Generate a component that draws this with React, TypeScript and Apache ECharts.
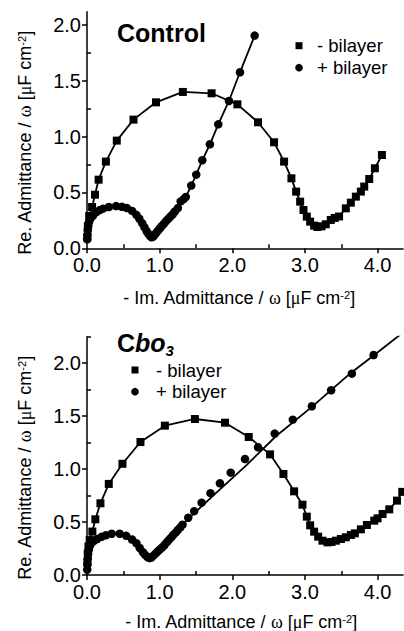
import React, { useEffect, useRef } from "react";
import * as echarts from "echarts";

const xTicks = [0, 1, 2, 3, 4];
const xMinorTicks = [0.5, 1.5, 2.5, 3.5];
const yTicks = [0, 0.5, 1, 1.5, 2];
const yMinorTicksTop = [0.25, 0.75, 1.25, 1.75];
const yMinorTicksBottom = [0.25, 0.75, 1.25, 1.75, 2.25];

const controlMinus = [
  [0.005, 0.1], [0.012, 0.2], [0.03, 0.29], [0.07, 0.37], [0.11, 0.48], [0.16, 0.615],
  [0.26, 0.777], [0.41, 0.965], [0.64, 1.153], [0.95, 1.308], [1.32, 1.401], [1.715, 1.389],
  [2.07, 1.29], [2.354, 1.129], [2.575, 0.95], [2.713, 0.777], [2.814, 0.627], [2.879, 0.508],
  [2.934, 0.418], [2.98, 0.343], [3.026, 0.284], [3.072, 0.239], [3.127, 0.203], [3.172, 0.191],
  [3.228, 0.197], [3.287, 0.215], [3.356, 0.254], [3.41, 0.272], [3.47, 0.285], [3.563, 0.358],
  [3.632, 0.409], [3.701, 0.463], [3.77, 0.508], [3.816, 0.553], [3.885, 0.621], [3.963, 0.717],
  [4.06, 0.836],
];

const controlPlus = [
  [0.003, 0.08], [0.006, 0.12], [0.01, 0.16], [0.018, 0.2], [0.03, 0.24], [0.05, 0.27],
  [0.08, 0.29], [0.12, 0.32], [0.17, 0.34], [0.22, 0.355], [0.3, 0.37], [0.4, 0.378],
  [0.48, 0.372], [0.55, 0.36], [0.62, 0.335], [0.68, 0.3], [0.72, 0.265], [0.76, 0.225],
  [0.79, 0.19], [0.82, 0.155], [0.845, 0.13], [0.87, 0.11], [0.89, 0.098], [0.91, 0.105],
  [0.93, 0.12], [0.955, 0.14], [0.98, 0.16], [1.005, 0.18], [1.03, 0.2], [1.06, 0.22],
  [1.09, 0.245], [1.12, 0.265], [1.15, 0.285], [1.18, 0.305], [1.21, 0.33], [1.25, 0.36],
  [1.29, 0.42], [1.33, 0.44], [1.36, 0.46], [1.435, 0.562], [1.504, 0.66], [1.587, 0.789],
  [1.692, 0.932], [1.807, 1.111], [1.954, 1.32], [2.106, 1.577], [2.308, 1.906],
];

const cbo3Minus = [
  [0.005, 0.12], [0.01, 0.2], [0.02, 0.27], [0.037, 0.33], [0.074, 0.41], [0.115, 0.526],
  [0.185, 0.677], [0.3, 0.86], [0.488, 1.05], [0.736, 1.256], [1.072, 1.41], [1.486, 1.473],
  [1.9, 1.438], [2.226, 1.303], [2.52, 1.139], [2.704, 0.954], [2.851, 0.79], [2.966, 0.664],
  [3.026, 0.551], [3.072, 0.469], [3.127, 0.409], [3.182, 0.362], [3.242, 0.324], [3.311, 0.308],
  [3.366, 0.312], [3.426, 0.324], [3.495, 0.34], [3.563, 0.356], [3.632, 0.378], [3.687, 0.393],
  [3.77, 0.431], [3.853, 0.472], [3.954, 0.513], [4.0, 0.535], [4.069, 0.576], [4.161, 0.62],
  [4.267, 0.702], [4.34, 0.785],
];

const cbo3Plus = [
  [0.003, 0.05], [0.006, 0.1], [0.01, 0.15], [0.016, 0.2], [0.025, 0.24], [0.04, 0.275],
  [0.06, 0.3], [0.09, 0.32], [0.14, 0.34], [0.2, 0.36], [0.26, 0.375], [0.34, 0.39],
  [0.45, 0.39], [0.54, 0.37], [0.62, 0.335], [0.68, 0.3], [0.725, 0.255], [0.77, 0.215],
  [0.8, 0.19], [0.83, 0.17], [0.86, 0.16], [0.885, 0.165], [0.91, 0.18], [0.94, 0.2],
  [0.97, 0.22], [1.0, 0.24], [1.035, 0.26], [1.067, 0.283], [1.1, 0.31], [1.127, 0.331],
  [1.16, 0.355], [1.187, 0.378], [1.22, 0.4], [1.251, 0.425], [1.285, 0.45], [1.315, 0.475],
  [1.394, 0.541], [1.476, 0.603], [1.578, 0.683], [1.7, 0.773], [1.83, 0.866], [1.978, 0.966],
  [2.175, 1.095], [2.355, 1.206], [2.584, 1.335], [2.833, 1.467], [3.095, 1.593], [3.361, 1.744],
  [3.646, 1.901], [3.945, 2.077],
];

const cbo3PlusFit = [
  [0.003, 0.05], [0.02, 0.22], [0.06, 0.3], [0.14, 0.34], [0.26, 0.375], [0.4, 0.39],
  [0.54, 0.37], [0.64, 0.325], [0.72, 0.26], [0.79, 0.195], [0.85, 0.16], [0.9, 0.17],
  [0.97, 0.215], [1.07, 0.285], [1.2, 0.385], [1.37, 0.515], [1.8, 0.79], [2.2, 1.04],
  [2.6, 1.31], [3.1, 1.59], [3.6, 1.89], [3.95, 2.075], [4.35, 2.29],
];

const FONT = "Liberation Sans, Arial, Helvetica, sans-serif";
const SERIF = "Liberation Serif, Times New Roman, serif";
const BLACK = "#000";

function mainX(gridIndex: number) {
  return {
    type: "value", gridIndex, min: 0, max: 4.35, interval: 1, position: "bottom",
    axisLine: { show: true, onZero: false, lineStyle: { color: BLACK, width: 1.5 } },
    axisTick: { show: true, inside: false, length: 5, customValues: xTicks, lineStyle: { color: BLACK, width: 1.5 } },
    axisLabel: { show: true, margin: 7, customValues: xTicks, formatter: (v: number) => v.toFixed(1), color: BLACK, fontSize: 20, fontFamily: FONT },
    splitLine: { show: false },
  };
}
function minorX(gridIndex: number) {
  return {
    type: "value", gridIndex, min: 0, max: 4.35, interval: 0.5, position: "bottom",
    axisLine: { show: false, onZero: false },
    axisTick: { show: true, inside: true, length: 4, customValues: xMinorTicks, lineStyle: { color: BLACK, width: 1.5 } },
    axisLabel: { show: false },
    splitLine: { show: false },
  };
}
function mainY(gridIndex: number, max: number) {
  return {
    type: "value", gridIndex, min: 0, max, interval: 0.5, position: "left",
    axisLine: { show: true, onZero: false, lineStyle: { color: BLACK, width: 1.5 } },
    axisTick: { show: true, inside: false, length: 5, customValues: yTicks, lineStyle: { color: BLACK, width: 1.5 } },
    axisLabel: { show: true, margin: 6, customValues: yTicks, formatter: (v: number) => v.toFixed(1), color: BLACK, fontSize: 20, fontFamily: FONT },
    splitLine: { show: false },
  };
}
function minorY(gridIndex: number, max: number, ticks: number[]) {
  return {
    type: "value", gridIndex, min: 0, max, interval: 0.25, position: "left",
    axisLine: { show: false, onZero: false },
    axisTick: { show: true, inside: true, length: 4, customValues: ticks, lineStyle: { color: BLACK, width: 1.5 } },
    axisLabel: { show: false },
    splitLine: { show: false },
  };
}

const titleRich = {
  t: { fontSize: 18, fontFamily: FONT, color: BLACK },
  g: { fontSize: 18, fontFamily: SERIF, color: BLACK },
  s: { fontSize: 11, fontFamily: FONT, color: BLACK, verticalAlign: "top" },
};
const yTitleText = "{t|Re. Admittance / }{g|ω}{t| [}{g|μ}{t|F cm}{s|-2}{t|]}";
const xTitleText = "{t|- Im. Admittance / }{g|ω}{t| [}{g|μ}{t|F cm}{s|-2}{t|]}";

function titleText(x: number, y: number, text: string, rotation = 0) {
  return {
    type: "text", x, y, rotation,
    style: { text, rich: titleRich, align: "center", verticalAlign: "middle", fill: BLACK },
  };
}

function legend(x: number, y1: number, y2: number, tx: number) {
  return [
    { type: "rect", shape: { x: x - 3.5, y: y1 - 3.5, width: 7, height: 7 }, style: { fill: BLACK } },
    { type: "circle", shape: { cx: x, cy: y2, r: 3.8 }, style: { fill: BLACK } },
    { type: "text", x: tx, y: y1, style: { text: "- bilayer", fontSize: 18.5, fontFamily: FONT, fill: BLACK, align: "left", verticalAlign: "middle" } },
    { type: "text", x: tx, y: y2, style: { text: "+ bilayer", fontSize: 18.5, fontFamily: FONT, fill: BLACK, align: "left", verticalAlign: "middle" } },
  ];
}

export default function App() {
  const ref = useRef<HTMLDivElement>(null);
  useEffect(() => {
    if (!ref.current) return;
    const chart = echarts.init(ref.current, undefined, { renderer: "svg" });
    const lineStyle = { color: BLACK, width: 1.8 };
    const option: any = {
      animation: false,
      backgroundColor: "#fff",
      grid: [
        { left: 87, top: 11.7, right: 1, height: 236.6 },
        { left: 87, top: 336.7, right: 1, height: 238.3 },
      ],
      xAxis: [mainX(0), minorX(0), mainX(1), minorX(1)],
      yAxis: [mainY(0, 2.12), minorY(0, 2.12, yMinorTicksTop), mainY(1, 2.25), minorY(1, 2.25, yMinorTicksBottom)],
      series: [
        { name: "- bilayer", type: "line", xAxisIndex: 0, yAxisIndex: 0, data: controlMinus, symbol: "rect", symbolSize: 8, showAllSymbol: true, lineStyle, itemStyle: { color: BLACK }, clip: true },
        { name: "+ bilayer", type: "line", xAxisIndex: 0, yAxisIndex: 0, data: controlPlus, symbol: "circle", symbolSize: 8.5, showAllSymbol: true, lineStyle, itemStyle: { color: BLACK }, clip: true },
        { name: "- bilayer", type: "line", xAxisIndex: 2, yAxisIndex: 2, data: cbo3Minus, symbol: "rect", symbolSize: 8, showAllSymbol: true, lineStyle, itemStyle: { color: BLACK }, clip: true },
        { name: "fit", type: "line", xAxisIndex: 2, yAxisIndex: 2, data: cbo3PlusFit, showSymbol: false, lineStyle, itemStyle: { color: BLACK }, clip: true },
        { name: "+ bilayer", type: "scatter", xAxisIndex: 2, yAxisIndex: 2, data: cbo3Plus, symbol: "circle", symbolSize: 8.5, itemStyle: { color: BLACK, opacity: 1 }, clip: true },
      ],
      graphic: [
        titleText(25, 143, yTitleText, Math.PI / 2),
        titleText(25, 468, yTitleText, Math.PI / 2),
        titleText(239, 298, xTitleText),
        titleText(241, 622, xTitleText),
        { type: "text", x: 117, y: 32.5, style: { text: "Control", fontSize: 25, fontWeight: "bold", fontFamily: FONT, fill: BLACK, align: "left", verticalAlign: "middle" } },
        {
          type: "text", x: 117, y: 342.5,
          style: {
            text: "{c|C}{b|bo}{s|3}", align: "left", verticalAlign: "middle", fill: BLACK,
            rich: {
              c: { fontSize: 25, fontWeight: "bold", fontFamily: FONT, color: BLACK },
              b: { fontSize: 25, fontWeight: "bold", fontStyle: "italic", fontFamily: FONT, color: BLACK },
              s: { fontSize: 15, fontWeight: "bold", fontStyle: "italic", fontFamily: FONT, color: BLACK, verticalAlign: "bottom", padding: [0, 0, -3, 0] },
            },
          },
        },
        ...legend(299, 45.7, 67.7, 317),
        ...legend(135, 370, 391.7, 156),
      ],
    };
    chart.setOption(option);
    return () => chart.dispose();
  }, []);
  return <div ref={ref} style={{ width: 404, height: 631, position: "absolute", left: 0, top: 0 }} />;
}
